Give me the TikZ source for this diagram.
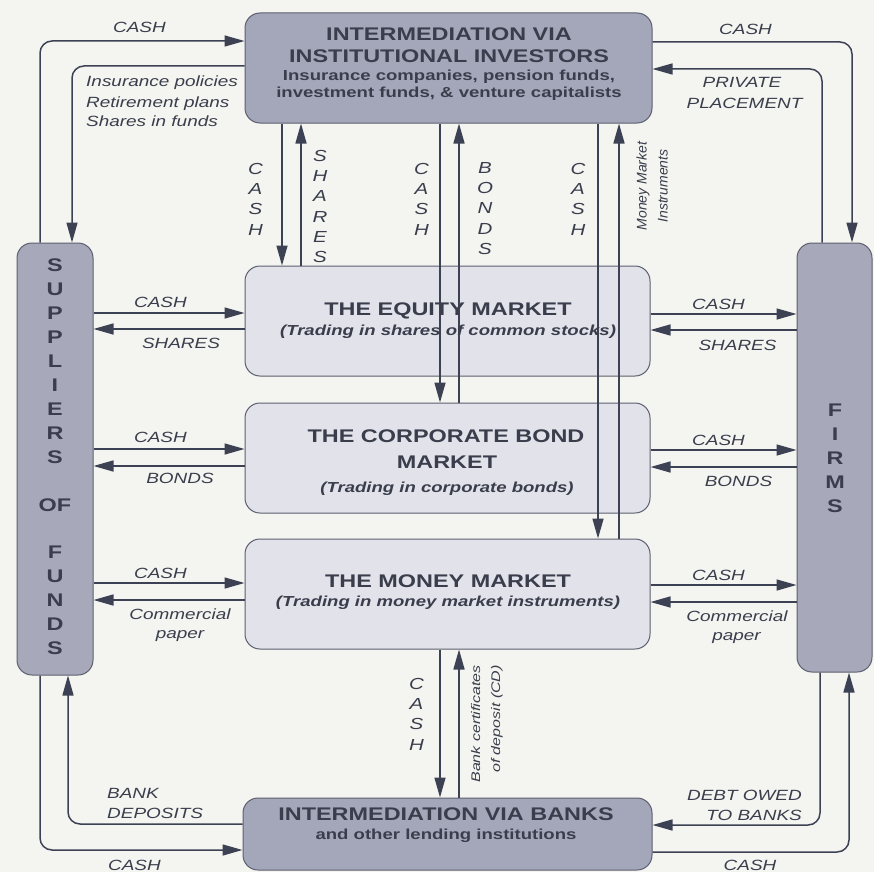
\documentclass[tikz,border=0pt]{standalone}
\usepackage{fontspec}
\newfontfamily\hv{Liberation Sans}[FakeStretch=1.28]
\newfontfamily\hvn{Liberation Sans}
\usetikzlibrary{arrows.meta}
\definecolor{paper}{RGB}{244,244,240}
\definecolor{darkfill}{RGB}{164,167,186}
\definecolor{sidefill}{RGB}{167,169,187}
\definecolor{lightfill}{RGB}{226,227,234}
\definecolor{edgec}{RGB}{92,96,110}
\definecolor{linec}{RGB}{60,66,84}
\definecolor{txt}{RGB}{58,62,76}
\tikzset{
  darkbox/.style={draw=edgec, line width=1pt, fill=darkfill, rounded corners=15pt, inner sep=0pt},
  sidebox/.style={draw=edgec, line width=1pt, fill=sidefill, rounded corners=15pt, inner sep=0pt},
  lightbox/.style={draw=edgec, line width=1pt, fill=lightfill, rounded corners=15pt, inner sep=0pt,
                   minimum width=405pt, minimum height=110pt},
  arr/.style={draw=linec, line width=1.5pt, rounded corners=12pt,
              -{Triangle[length=20pt,width=11pt]}},
  ttl/.style={font=\hv\bfseries\fontsize{18.3}{22}\selectfont, text=txt, inner sep=0pt},
  sub/.style={font=\hv\bfseries\fontsize{14.5}{17}\selectfont, text=txt, inner sep=0pt},
  subi/.style={font=\hv\bfseries\itshape\fontsize{14.5}{17}\selectfont, text=txt, inner sep=0pt},
  lbl/.style={font=\hv\itshape\fontsize{14.8}{17}\selectfont, text=txt, inner sep=0pt},
  vlbl/.style={font=\hv\itshape\fontsize{16}{20.3}\selectfont, text=txt, inner sep=0pt, align=center, anchor=north},
  sidelbl/.style={font=\hv\bfseries\fontsize{18.3}{24}\selectfont, text=txt, inner sep=0pt, align=center, anchor=north},
}
\begin{document}
\begin{tikzpicture}[x=1pt,y=-1pt]
\useasboundingbox (0,0) rectangle (874,872);
\fill[paper] (0,0) rectangle (874,872);

% ---------- boxes ----------
\node[darkbox, minimum width=407pt, minimum height=110pt] (top) at (448.5,68) {};
\node[darkbox, minimum width=409pt, minimum height=72pt] (banks) at (447.5,834) {};
\node[sidebox, minimum width=76pt, minimum height=432pt] (sup) at (55,459) {};
\node[sidebox, minimum width=75pt, minimum height=429pt] (firms) at (834.5,457.5) {};
\node[lightbox] (equity) at (447.5,321) {};
\node[lightbox] (bond) at (447.5,458) {};
\node[lightbox] (money) at (447.5,594) {};

% ---------- connectors ----------
% top left
\draw[arr] (sup.north -| 40,0) |- (top.west |- 0,41);
\draw[arr] (top.west |- 0,66) -| (sup.north -| 72,0);
% top right
\draw[arr] (top.east |- 0,42) -| (firms.north -| 852,0);
\draw[arr] (firms.north -| 822,0) |- (top.east |- 0,69);
% vertical, top box to markets
\draw[arr] (top.south -| 282,0) -- (equity.north -| 282,0);
\draw[arr] (equity.north -| 301,0) -- (top.south -| 301,0);
\draw[arr] (top.south -| 440,0) -- (bond.north -| 440,0);
\draw[arr] (bond.north -| 459,0) -- (top.south -| 459,0);
\draw[arr] (top.south -| 598,0) -- (money.north -| 598,0);
\draw[arr] (money.north -| 619,0) -- (top.south -| 619,0);
% left horizontals
\draw[arr] (sup.east |- 0,313) -- (equity.west |- 0,313);
\draw[arr] (equity.west |- 0,329) -- (sup.east |- 0,329);
\draw[arr] (sup.east |- 0,449) -- (bond.west |- 0,449);
\draw[arr] (bond.west |- 0,466) -- (sup.east |- 0,466);
\draw[arr] (sup.east |- 0,583) -- (money.west |- 0,583);
\draw[arr] (money.west |- 0,600) -- (sup.east |- 0,600);
% right horizontals
\draw[arr] (equity.east |- 0,314) -- (firms.west |- 0,314);
\draw[arr] (firms.west |- 0,330) -- (equity.east |- 0,330);
\draw[arr] (bond.east |- 0,450) -- (firms.west |- 0,450);
\draw[arr] (firms.west |- 0,467) -- (bond.east |- 0,467);
\draw[arr] (money.east |- 0,585) -- (firms.west |- 0,585);
\draw[arr] (firms.west |- 0,602) -- (money.east |- 0,602);
% money market <-> banks
\draw[arr] (money.south -| 440,0) -- (banks.north -| 440,0);
\draw[arr] (banks.north -| 459,0) -- (money.south -| 459,0);
% bottom left
\draw[arr] (banks.west |- 0,824) -| (sup.south -| 68,0);
\draw[arr] (sup.south -| 40,0) |- (banks.west |- 0,850);
% bottom right
\draw[arr] (firms.south -| 820,0) |- (banks.east |- 0,825);
\draw[arr] (banks.east |- 0,852) -| (firms.south -| 849,0);

% ---------- box texts ----------
\node[ttl, anchor=base] (topA) at (449,41) {INTERMEDIATION VIA};
\node[ttl, anchor=base] (topB) at (449,63) {INSTITUTIONAL INVESTORS};
\node[sub, anchor=base] (topC) at (449,80.5) {Insurance companies, pension funds,};
\node[sub, anchor=base] (topD) at (449,98) {investment funds, \& venture capitalists};

\node[ttl, anchor=base] (eqA) at (448,315) {THE EQUITY MARKET};
\node[subi, anchor=base] (eqB) at (448,335) {(Trading in shares of common stocks)};

\node[ttl, anchor=base] (bdA) at (446,442) {THE CORPORATE BOND};
\node[ttl, anchor=base] (bdB) at (447,468) {MARKET};
\node[subi, anchor=base] (bdC) at (447,492) {(Trading in corporate bonds)};

\node[ttl, anchor=base] (mmA) at (448,587) {THE MONEY MARKET};
\node[subi, anchor=base] (mmB) at (448,606) {(Trading in money market instruments)};

\node[ttl, anchor=base] (bkA) at (446,820) {INTERMEDIATION VIA BANKS};
\node[sub, anchor=base] (bkB) at (446,839) {and other lending institutions};

\node[sidelbl] (supT) at (55,258.5) {S\\U\\P\\P\\L\\I\\E\\R\\S\\[24pt]OF\\[23pt]F\\U\\N\\D\\S};
\node[sidelbl] (firmT) at (835,403.5) {F\\I\\R\\M\\S};

% ---------- labels ----------
\node[lbl, anchor=base] (l1) at (139.5,33) {CASH};
\node[lbl, anchor=base west] (l2) at (86,87) {Insurance policies};
\node[lbl, anchor=base west] (l3) at (86,107) {Retirement plans};
\node[lbl, anchor=base west] (l4) at (86,126) {Shares in funds};
\node[lbl, anchor=base] (r1) at (745.5,35) {CASH};
\node[lbl, anchor=base] (r2) at (742,88) {PRIVATE};
\node[lbl, anchor=base] (r3) at (744.5,108) {PLACEMENT};

\node[lbl, anchor=base] (le1) at (160.5,307) {CASH};
\node[lbl, anchor=base] (le2) at (181,348) {SHARES};
\node[lbl, anchor=base] (lb1) at (160.5,442) {CASH};
\node[lbl, anchor=base] (lb2) at (180,483) {BONDS};
\node[lbl, anchor=base] (lm1) at (160.5,578) {CASH};
\node[lbl, anchor=base] (lm2) at (180,619) {Commercial};
\node[lbl, anchor=base] (lm3) at (180,638) {paper};

\node[lbl, anchor=base] (re1) at (718.5,309) {CASH};
\node[lbl, anchor=base] (re2) at (737.5,350) {SHARES};
\node[lbl, anchor=base] (rb1) at (718.5,445) {CASH};
\node[lbl, anchor=base] (rb2) at (738.5,486) {BONDS};
\node[lbl, anchor=base] (rm1) at (718.5,580) {CASH};
\node[lbl, anchor=base] (rm2) at (737,621) {Commercial};
\node[lbl, anchor=base] (rm3) at (736.5,640) {paper};

\node[lbl, anchor=base west] (bl1) at (107,798) {BANK};
\node[lbl, anchor=base west] (bl2) at (107,818) {DEPOSITS};
\node[lbl, anchor=base] (bl3) at (134.5,870) {CASH};
\node[lbl, anchor=base east] (br1) at (802,800) {DEBT OWED};
\node[lbl, anchor=base east] (br2) at (802,820) {TO BANKS};
\node[lbl, anchor=base] (br3) at (750,870) {CASH};

% stacked vertical labels
\node[vlbl] (v1) at (255.5,163) {C\\A\\S\\H};
\node[vlbl] (v2) at (320,150) {S\\H\\A\\R\\E\\S};
\node[vlbl] (v3) at (421.5,163) {C\\A\\S\\H};
\node[vlbl] (v4) at (485,162) {B\\O\\N\\D\\S};
\node[vlbl] (v5) at (578,163) {C\\A\\S\\H};
\node[vlbl] (v6) at (416.5,678) {C\\A\\S\\H};

% rotated labels
\node[font=\hvn\itshape\fontsize{14}{21}\selectfont, text=txt, inner sep=0pt, rotate=90, align=center] (mmi) at (652,186) {Money Market\\Instruments};
\node[font=\hv\itshape\fontsize{12.5}{20}\selectfont, text=txt, inner sep=0pt, rotate=90, align=right, anchor=east] (cd) at (487,665) {Bank certificates\\of deposit (CD)};
\end{tikzpicture}
\end{document}
